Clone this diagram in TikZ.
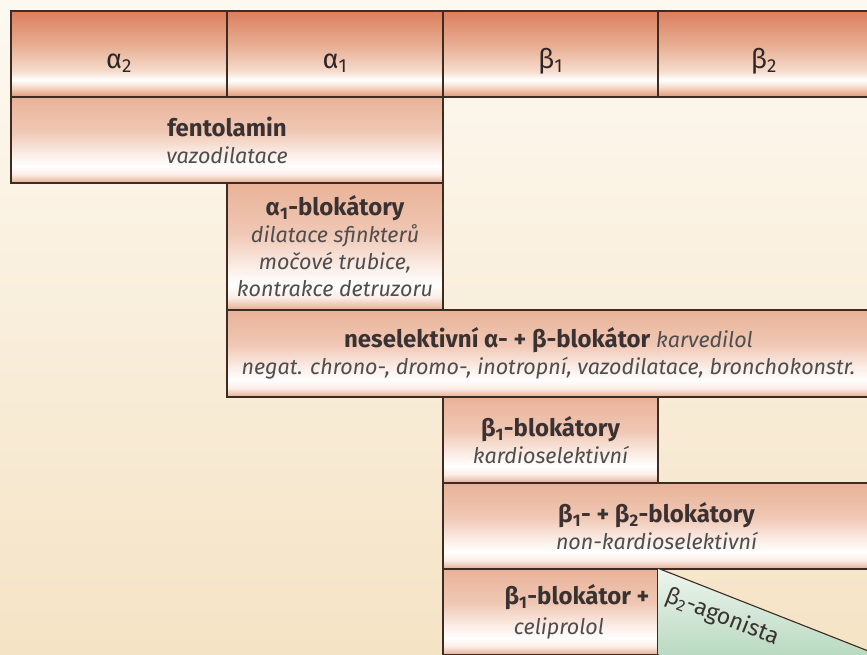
\documentclass[tikz,border=0pt]{standalone}
\usepackage{fontspec}
\setmainfont{Fira Sans}
\usetikzlibrary{positioning}

\definecolor{edge}{HTML}{3E2B22}
\definecolor{ink}{HTML}{3A3232}
\definecolor{inkhdr}{HTML}{2E2626}
\definecolor{inkit}{HTML}{4E4E4E}
\definecolor{hdrtop}{HTML}{DC7E5D}
\definecolor{hdrmid}{HTML}{E8AE93}
\definecolor{hdrpale}{HTML}{F6DCCD}
\definecolor{hdrlow}{HTML}{E29676}
\definecolor{celltop}{HTML}{E9B298}
\definecolor{cellmid}{HTML}{F0C8B5}
\definecolor{cellpale}{HTML}{FBEDE6}
\definecolor{celllow}{HTML}{E5AD92}
\definecolor{bgtop}{HTML}{FDF9F1}
\definecolor{bgbot}{HTML}{F5E3C5}
\definecolor{grntop}{HTML}{EEF5EE}
\definecolor{grnlow}{HTML}{B6D8BF}

\pgfdeclareverticalshading{hdrshade}{100bp}{color(0bp)=(hdrlow); color(25bp)=(hdrlow); color(31bp)=(hdrpale); color(35bp)=(white); color(40bp)=(hdrpale); color(55bp)=(hdrmid); color(75bp)=(hdrtop); color(100bp)=(hdrtop)}
\pgfdeclareverticalshading{cellshade}{100bp}{color(0bp)=(celllow); color(25bp)=(celllow); color(30bp)=(cellpale); color(35bp)=(white); color(42bp)=(cellpale); color(55bp)=(cellmid); color(75bp)=(celltop); color(100bp)=(celltop)}

\newcommand{\drugname}[1]{{\fontsize{24}{27}\selectfont\bfseries #1}}
\newcommand{\drugnote}[1]{{\fontsize{21.5}{27}\selectfont\itshape\color{inkit}#1}}

\begin{document}
\begin{tikzpicture}[x=1pt, y=-1pt,
    hdr/.style={rectangle, draw=edge, line width=1.1pt, shading=hdrshade, minimum height=86pt, inner sep=0pt, text height=28pt, text depth=0pt, text=inkhdr, font=\fontsize{27}{28}\selectfont},
    cell/.style={rectangle, draw=edge, line width=1.1pt, shading=cellshade, minimum height=86pt, inner sep=0pt, align=center, text=ink, font=\fontsize{22}{27}\selectfont}
]
    \useasboundingbox (0,0) rectangle (867,654);
    \fill[top color=bgtop, bottom color=bgbot] (0,0) rectangle (867,654);
    \clip (0,0) rectangle (867,654);

    % Header
    \node[hdr, minimum width=216pt] (a2) at (119,54) {α\textsubscript{2}};
    \node[hdr, minimum width=216pt] (a1) at (335,54) {α\textsubscript{1}};
    \node[hdr, minimum width=215pt] (b1) at (550.5,54) {β\textsubscript{1}};
    \node[hdr, minimum width=212pt] (b2) at (764,54) {β\textsubscript{2}};

    % Blockers
    \node[cell, minimum width=432pt] (fento) at (227,140) {\drugname{fentolamin}\\ \drugnote{vazodilatace}};
    \node[cell, minimum width=216pt, minimum height=127pt] (a1blok) at (335,246.5) {\drugname{α\textsubscript{1}-blokátory}\\ \drugnote{dilatace sfinkterů}\\ \drugnote{močové trubice,}\\ \drugnote{kontrakce detruzoru}};
    \node[cell, minimum width=643pt, minimum height=87pt] (nonsel) at (548.5,353.5) {\drugname{neselektivní α- + β-blokátor} \drugnote{karvedilol}\\ \drugnote{negat. chrono-, dromo-, inotropní, vazodilatace, bronchokonstr.}};
    \node[cell, minimum width=215pt] (b1blok) at (550.5,440) {\drugname{β\textsubscript{1}-blokátory}\\ \drugnote{kardioselektivní}};
    \node[cell, minimum width=427pt] (b12blok) at (656.5,526) {\drugname{β\textsubscript{1}- + β\textsubscript{2}-blokátory}\\ \drugnote{non-kardioselektivní}};
    \node[cell, minimum width=215pt] (b1ago) at (550.5,612) {};
    \node[text=ink] (b1agoA) at (577,597) {\drugname{β\textsubscript{1}-blokátor +}};
    \node (b1agoB) at (559,628) {\drugnote{celiprolol}};

    % agonist corner
    \coordinate (diag) at (867,650.5);
    \fill[top color=grntop, bottom color=grnlow] (b1ago.north east) -- (diag) -- (870,652) -- (870,660) -- (b1ago.south east) -- cycle;
    \draw[edge, line width=1.1pt] (b1ago.north east) -- (diag);
    \node[rotate=-21.3, text=ink, font=\fontsize{23}{26}\selectfont] (ago) at (722,617) {β\textsubscript{2}-agonista};
\end{tikzpicture}
\end{document}
